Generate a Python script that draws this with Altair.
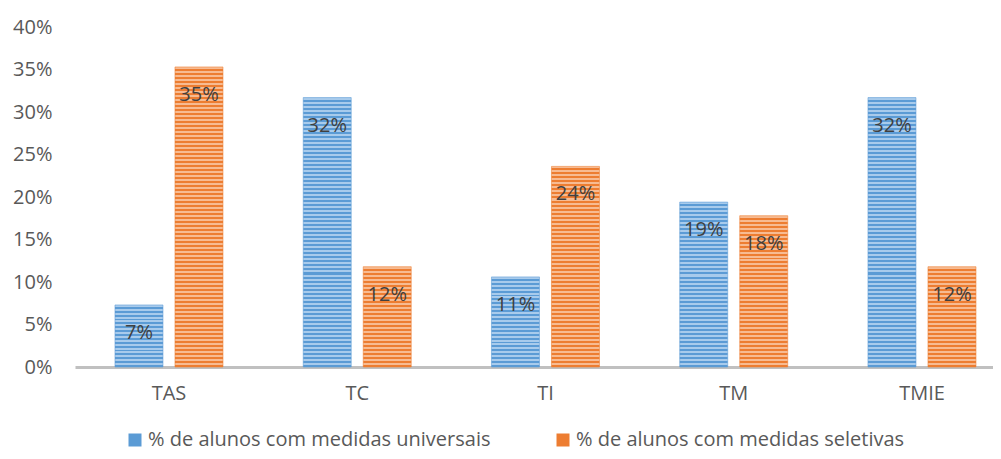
import altair as alt
import pandas as pd

categories = ["TAS", "TC", "TI", "TM", "TMIE"]
series = ["% de alunos com medidas universais", "% de alunos com medidas seletivas"]
universais = [0.073, 0.317, 0.106, 0.194, 0.317]
seletivas = [0.353, 0.118, 0.236, 0.178, 0.118]

rows = []
for c, u, s in zip(categories, universais, seletivas):
    rows.append({"cat": c, "serie": series[0], "v": u})
    rows.append({"cat": c, "serie": series[1], "v": s})
df = pd.DataFrame(rows)

H = 340
W = 918
YMAX = 0.40
dark = {series[0]: "#5b9bd5", series[1]: "#ed7d31"}
light = {series[0]: "#a8cbec", series[1]: "#f7bb92"}
FONT = "Open Sans"
TXT = "#595959"

xenc = alt.X("cat:N", sort=categories,
             scale=alt.Scale(domain=categories, paddingInner=0.3625, paddingOuter=0.1195, align=0.755),
             axis=alt.Axis(title=None, labelAngle=0, ticks=False, tickSize=0, labelPadding=16,
                           labelFontSize=20, labelFont=FONT, labelColor=TXT,
                           domainColor="#c0c0c0", domainWidth=3))
xoff = alt.XOffset("serie:N", sort=series,
                   scale=alt.Scale(domain=series, paddingInner=0.2, paddingOuter=0.1))
yenc = alt.Y("v:Q", scale=alt.Scale(domain=[0, YMAX]),
             axis=alt.Axis(title=None, format=".0%", values=[i * 0.05 for i in range(9)],
                           grid=False, ticks=False, tickSize=0, domain=False, labelPadding=23,
                           labelFontSize=20, labelFont=FONT, labelColor=TXT))


def stripes(serie, v):
    px = v / YMAX * H
    n = max(1, round(px / 4))
    stops = []
    for i in range(n):
        a = i / n
        m = (i + 0.5) / n
        b = (i + 1) / n
        stops += [{"offset": a, "color": light[serie]}, {"offset": m, "color": light[serie]},
                  {"offset": m, "color": dark[serie]}, {"offset": b, "color": dark[serie]}]
    return {"gradient": "linear", "x1": 0, "y1": 0, "x2": 0, "y2": 1, "stops": stops}


layers = []
for r in rows:
    layers.append(
        alt.Chart(df).transform_filter(
            (alt.datum.cat == r["cat"]) & (alt.datum.serie == r["serie"])
        ).mark_bar(color=stripes(r["serie"], r["v"]), stroke=dark[r["serie"]], strokeWidth=0.8,
                   strokeOpacity=0.7).encode(x=xenc, xOffset=xoff, y=yenc)
    )

legend_layer = alt.Chart(df).mark_bar().encode(
    x=xenc, xOffset=xoff, y=alt.datum(0),
    color=alt.Color("serie:N", sort=series,
                    scale=alt.Scale(domain=series, range=[dark[series[0]], dark[series[1]]]),
                    legend=alt.Legend(title=None, orient="none", legendX=50, legendY=403,
                                      direction="horizontal", symbolType="square", symbolSize=169,
                                      symbolStrokeWidth=0, labelOffset=3, columnPadding=62,
                                      labelFontSize=20, labelFont=FONT, labelColor=TXT,
                                      labelLimit=600, padding=0))
)

text_layer = alt.Chart(df).mark_text(baseline="middle", align="center", dy=28, fontSize=20,
                                     font=FONT, color="#404040").encode(
    x=xenc, xOffset=xoff, y=yenc, text=alt.Text("v:Q", format=".0%")
)

chart = alt.layer(*layers, legend_layer, text_layer).properties(
    width=W, height=H, autosize=alt.AutoSizeParams(type="none"),
    padding={"left": 67, "top": 19, "right": 0, "bottom": 84},
    background="white"
).configure_view(stroke=None)

chart.save("out.html", embed_options={"renderer": "svg", "actions": False})
